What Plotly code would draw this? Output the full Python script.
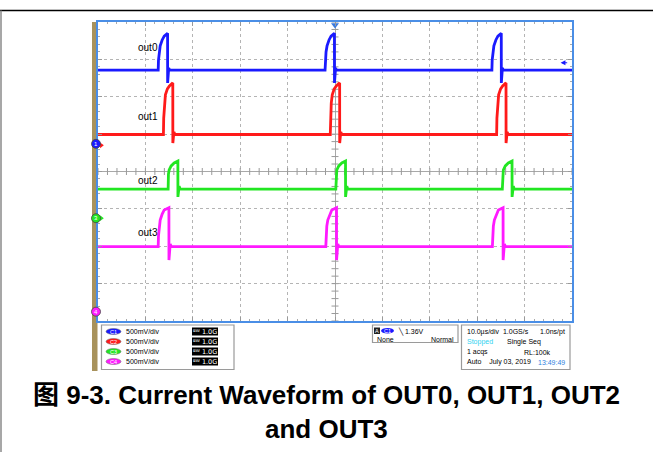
import plotly.graph_objects as go

W, H = 653, 452
def px(x):
    return x / W
def py(y):
    return 1 - y / H

# ---- data (time in µs, 10 µs/div; vertical in screen divisions, 500 mV/div) ----
channels = ["out0", "out1", "out2", "out3"]
colors = ["#1a1aff", "#ff1a1a", "#22e622", "#ff1aff"]
baseline = [2.71, 0.99, -0.47, -2.01]
rise_times = [
    [-37.3, -2.1, 33.1],
    [-36.2, -1.0, 34.1],
    [-35.2, 0.17, 35.3],
    [-37.3, -1.94, 33.2],
]
shape_dt = [
    [0, 0.06, 0.21, 0.42, 0.84, 1.27, 1.98, 1.99, 2.22, 2.43],
    [0, 0.06, 0.21, 0.42, 0.84, 1.27, 1.98, 1.99, 2.22, 2.43],
    [0, 0.06, 0.21, 0.63, 1.27, 2.05, 2.06, 2.32, 2.53],
    [0, 0.06, 0.21, 0.42, 0.84, 1.27, 2.26, 2.27, 2.53, 2.74],
]
shape_v = [
    [2.71, 2.98, 3.20, 3.36, 3.52, 3.62, 3.70, 2.37, 2.77, 2.71],
    [0.99, 1.43, 1.83, 2.05, 2.21, 2.29, 2.37, 0.76, 1.06, 0.99],
    [-0.47, -0.07, 0.04, 0.15, 0.23, 0.28, -0.68, -0.39, -0.47],
    [-2.01, -1.72, -1.46, -1.30, -1.14, -1.03, -0.97, -2.37, -1.94, -2.01],
]
label_y = [3.33, 1.46, -0.25, -1.62]
ground_level = [0.74, 0.70, -1.25, -3.75]
ground_names = ["1", "2", "3", "4"]
trigger_level = 2.91
scale_text = ["500mV/div", "500mV/div", "500mV/div", "500mV/div"]
pill_text = ["C1", "C2", "C3", "C4"]

T_MIN, T_MAX = -50, 50
V_MIN, V_MAX = -4, 4
DIV_PX = (321 - 22) / (V_MAX - V_MIN)

fig = go.Figure()

# graticule centre-line ticks
fig.add_trace(go.Scatter(x=[T_MIN + 2 * i for i in range(51)], y=[0] * 51, mode="markers",
                         marker=dict(symbol="line-ns-open", size=5, color="#9a9a9a", line=dict(width=1, color="#9a9a9a")),
                         hoverinfo="skip", showlegend=False))
fig.add_trace(go.Scatter(x=[0] * 41, y=[V_MIN + 0.2 * i for i in range(41)], mode="markers",
                         marker=dict(symbol="line-ew-open", size=5, color="#9a9a9a", line=dict(width=1, color="#9a9a9a")),
                         hoverinfo="skip", showlegend=False))

# waveforms
for i, name in enumerate(channels):
    xs, ys = [T_MIN], [baseline[i]]
    for r in rise_times[i]:
        for dt, v in zip(shape_dt[i], shape_v[i]):
            xs.append(r + dt)
            ys.append(v)
    xs.append(T_MAX)
    ys.append(baseline[i])
    fig.add_trace(go.Scatter(x=xs, y=ys, mode="lines", line=dict(color=colors[i], width=2.8),
                             name=name, showlegend=False, hoverinfo="skip"))
    fig.add_annotation(x=-42, y=label_y[i], text=name, showarrow=False, xanchor="left", yanchor="middle",
                       font=dict(family="Liberation Sans", size=10, color="black"))

shapes = []

# ground markers (left)
r_div = 4.5 / DIV_PX
for i in [0, 2, 3]:
    shapes.append(dict(type="circle", xref="paper", yref="y", x0=px(91.5), x1=px(100.5),
                       y0=ground_level[i] - r_div, y1=ground_level[i] + r_div,
                       fillcolor=colors[i], line=dict(color="#444", width=0.8), layer="above"))
    fig.add_annotation(xref="paper", yref="y", x=px(96), y=ground_level[i], text=ground_names[i],
                       showarrow=False, xanchor="center", yanchor="middle",
                       font=dict(family="Liberation Sans", size=6, color="white"))
fig.add_trace(go.Scatter(x=[T_MIN + 0.7, T_MIN + 0.7], y=[ground_level[1], ground_level[2]], mode="markers",
                         marker=dict(symbol="triangle-right", size=5, color=[colors[1], colors[2]]),
                         cliponaxis=False, showlegend=False, hoverinfo="skip"))
# trigger position
fig.add_trace(go.Scatter(x=[0], y=[V_MAX - 0.08], mode="markers",
                         marker=dict(symbol="triangle-down", size=7, color="#3a7be0"),
                         cliponaxis=False, showlegend=False, hoverinfo="skip"))
# trigger level arrow
fig.add_annotation(x=47.6, y=trigger_level, ax=49.3, ay=trigger_level, xref="x", yref="y",
                   axref="x", ayref="y", text="", showarrow=True, arrowhead=2, arrowsize=0.8,
                   arrowwidth=1.2, arrowcolor="#1a1aff", startstandoff=0)

fig.update_xaxes(range=[T_MIN, T_MAX], domain=[px(98), px(572)], dtick=10, tick0=0,
                 showgrid=True, gridcolor="#b4b4b4", griddash="dot", gridwidth=1,
                 zeroline=True, zerolinecolor="#a8a8a8", zerolinewidth=1,
                 showline=True, linecolor="#4a8ee6", linewidth=1.5, mirror="allticks",
                 ticks="inside", ticklen=4, tickcolor="#999",
                 minor=dict(dtick=2, ticks="inside", ticklen=2, tickcolor="#aaa"),
                 showticklabels=False, fixedrange=True)
fig.update_yaxes(range=[V_MIN, V_MAX], domain=[py(321), py(22)], dtick=1, tick0=0,
                 showgrid=True, gridcolor="#b4b4b4", griddash="dot", gridwidth=1,
                 zeroline=True, zerolinecolor="#a8a8a8", zerolinewidth=1,
                 showline=True, linecolor="#4a8ee6", linewidth=1.5, mirror="allticks",
                 ticks="inside", ticklen=4, tickcolor="#999",
                 minor=dict(dtick=0.2, ticks="inside", ticklen=2, tickcolor="#aaa"),
                 showticklabels=False, fixedrange=True)

# outer frame
shapes.append(dict(type="line", xref="paper", yref="paper", x0=0, x1=1, y0=py(10.5), y1=py(10.5),
                   line=dict(color="black", width=1.5)))
shapes.append(dict(type="line", xref="paper", yref="paper", x0=px(1), x1=px(1), y0=py(10.5), y1=0,
                   line=dict(color="#8a8a8a", width=1.5)))
# brown side bar
shapes.append(dict(type="rect", xref="paper", yref="paper", x0=px(92), x1=px(97.5), y0=py(371), y1=py(22),
                   fillcolor="#a8925c", line=dict(width=0), layer="below"))
# info boxes
for (x0, y0, x1, y1) in [(101.5, 325, 234, 369.5), (372.5, 325, 458, 342.5), (461.5, 325, 570, 369.5)]:
    shapes.append(dict(type="rect", xref="paper", yref="paper", x0=px(x0), x1=px(x1), y0=py(y1), y1=py(y0),
                       fillcolor="white", line=dict(color="#9a9a9a", width=1.2)))

def label(x, y, text, anchor="left", size=7, color="black", family="Liberation Sans"):
    fig.add_annotation(xref="paper", yref="paper", x=px(x), y=py(y), text=text, showarrow=False,
                       xanchor=anchor, yanchor="middle", font=dict(family=family, size=size, color=color))

rows = [331.5, 341.5, 351.5, 361.5]
for i, yy in enumerate(rows):
    shapes.append(dict(type="circle", xref="paper", yref="paper", x0=px(106), x1=px(121), y0=py(yy + 3), y1=py(yy - 3),
                       fillcolor=colors[i], line=dict(color="#666", width=0.5)))
    label(113.5, yy, pill_text[i], "center", 5.5, "white")
    label(124, yy, scale_text[i])
    shapes.append(dict(type="rect", xref="paper", yref="paper", x0=px(192), x1=px(218), y0=py(yy + 4), y1=py(yy - 4),
                       fillcolor="black", line=dict(width=0)))
    label(205, yy, "\u1d2e\u1d42 1.0G", "center", 6.5, "white", "DejaVu Sans")

# trigger box
shapes.append(dict(type="rect", xref="paper", yref="paper", x0=px(374), x1=px(380), y0=py(334), y1=py(327.5),
                   fillcolor="#222", line=dict(width=0)))
label(377, 330.8, "A", "center", 5.5, "white")
shapes.append(dict(type="circle", xref="paper", yref="paper", x0=px(381), x1=px(394), y0=py(333.5), y1=py(328),
                   fillcolor=colors[0], line=dict(width=0)))
label(387.5, 330.8, "C1", "center", 5.5, "white")
label(396, 331, "\u2572 1.36V")
label(375, 339, "None")
label(456, 339, "Normal", "right")

# timebase box
tb_left = [("10.0\u00b5s/div  1.0GS/s", 331.5, "black"), ("Stopped", 341.5, "#2fd2f0"),
           ("1 acqs", 352, "black"), ("Auto    July 03, 2019", 362, "black")]
tb_right = [("1.0ns/pt", 331.5, 567, "black"), ("Single Seq", 341.5, 543, "black"),
            ("RL:100k", 352, 553, "black"), ("13:49:49", 362, 567, "#2f7fe0")]
for t, yy, c in tb_left:
    label(465, yy, t, "left", 7, c)
for t, yy, xr, c in tb_right:
    label(xr, yy, t, "right", 7, c)

# caption
cap_family = "Liberation Sans, Noto Sans CJK SC"
label(326.5, 395, "<b>图 9-3. Current Waveform of OUT0, OUT1, OUT2</b>", "center", 26, "black", cap_family)
label(326.5, 429, "<b>and OUT3</b>", "center", 26, "black", cap_family)

fig.update_layout(width=W, height=H, margin=dict(l=0, r=0, t=0, b=0), paper_bgcolor="white",
                  plot_bgcolor="white", shapes=shapes, showlegend=False)
fig.write_html("out.html", config={"displayModeBar": False},
               post_script="document.body.style.margin='0';document.body.style.overflow='hidden';")
